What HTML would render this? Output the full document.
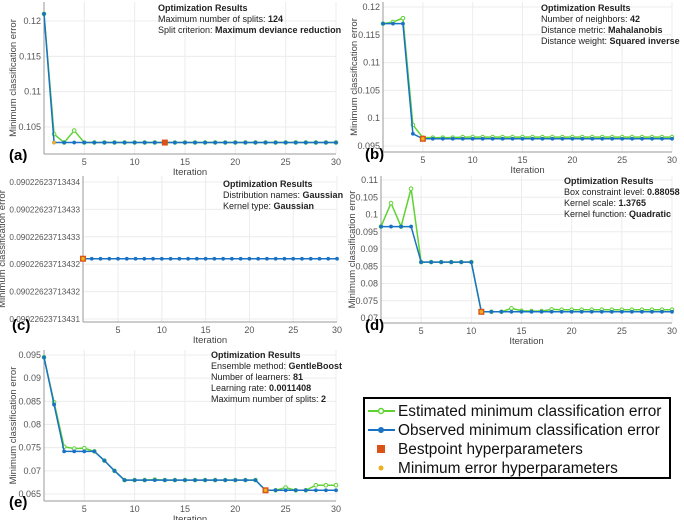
<!DOCTYPE html>
<html><head><meta charset="utf-8"><style>
body{margin:0;background:#fff;font-family:"Liberation Sans",sans-serif}
svg text{font-family:"Liberation Sans",sans-serif}
</style></head><body>
<svg id="s" width="684" height="520" xmlns="http://www.w3.org/2000/svg"></svg>
<script>
const iters=[1,2,3,4,5,6,7,8,9,10,11,12,13,14,15,16,17,18,19,20,21,22,23,24,25,26,27,28,29,30];
const xTicks=[5,10,15,20,25,30];
const aObs=[0.121,0.1028,0.1028,0.1028,0.1028,0.1028,0.1028,0.1028,0.1028,0.1028,0.1028,0.1028,0.1028,0.1028,0.1028,0.1028,0.1028,0.1028,0.1028,0.1028,0.1028,0.1028,0.1028,0.1028,0.1028,0.1028,0.1028,0.1028,0.1028,0.1028];
const aEst=[0.121,0.104,0.1028,0.1045,0.1028,0.1028,0.1028,0.1028,0.1028,0.1028,0.1028,0.1028,0.1028,0.1028,0.1028,0.1028,0.1028,0.1028,0.1028,0.1028,0.1028,0.1028,0.1028,0.1028,0.1028,0.1028,0.1028,0.1028,0.1028,0.1028];
const aTicks=[0.105,0.11,0.115,0.12];
const bObs=[0.117,0.117,0.117,0.0972,0.0963,0.0963,0.0963,0.0963,0.0963,0.0963,0.0963,0.0963,0.0963,0.0963,0.0963,0.0963,0.0963,0.0963,0.0963,0.0963,0.0963,0.0963,0.0963,0.0963,0.0963,0.0963,0.0963,0.0963,0.0963,0.0963];
const bEst=[0.117,0.1173,0.118,0.0988,0.0965,0.0965,0.0965,0.0965,0.0966,0.0966,0.0966,0.0966,0.0966,0.0966,0.0966,0.0966,0.0966,0.0966,0.0966,0.0966,0.0966,0.0966,0.0966,0.0966,0.0966,0.0966,0.0966,0.0966,0.0966,0.0966];
const bTicks=[0.095,0.1,0.105,0.11,0.115,0.12];
const cObs=[432.6,432.6,432.6,432.6,432.6,432.6,432.6,432.6,432.6,432.6,432.6,432.6,432.6,432.6,432.6,432.6,432.6,432.6,432.6,432.6,432.6,432.6,432.6,432.6,432.6,432.6,432.6,432.6,432.6,432.6];
const cTicks=[431.5,432,432.5,433,433.5,434];
const cTickLabels=["0.09022623713431","0.09022623713432","0.09022623713432","0.09022623713433","0.09022623713433","0.09022623713434"];
const dObs=[0.0965,0.0965,0.0965,0.0965,0.0862,0.0862,0.0862,0.0862,0.0862,0.0862,0.0718,0.0718,0.0718,0.0718,0.0718,0.0718,0.0718,0.0718,0.0718,0.0718,0.0718,0.0718,0.0718,0.0718,0.0718,0.0718,0.0718,0.0718,0.0718,0.0718];
const dEst=[0.0965,0.1033,0.0965,0.1075,0.0862,0.0862,0.0862,0.0862,0.0862,0.0862,0.0718,0.0718,0.0718,0.0728,0.0721,0.072,0.072,0.0725,0.0724,0.0724,0.0724,0.0724,0.0724,0.0724,0.0724,0.0724,0.0724,0.0724,0.0724,0.0724];
const dTicks=[0.07,0.075,0.08,0.085,0.09,0.095,0.1,0.105,0.11];
const eObs=[0.0945,0.0843,0.0742,0.0742,0.0742,0.0742,0.0722,0.07,0.068,0.068,0.068,0.068,0.068,0.068,0.068,0.068,0.068,0.068,0.068,0.068,0.068,0.068,0.0658,0.0658,0.0658,0.0658,0.0658,0.0658,0.0658,0.0658];
const eEst=[0.0945,0.0848,0.0752,0.0748,0.0749,0.0742,0.0722,0.07,0.068,0.068,0.068,0.0681,0.068,0.068,0.068,0.068,0.068,0.068,0.068,0.068,0.068,0.068,0.0658,0.0658,0.0664,0.0658,0.0658,0.0669,0.0669,0.0669];
const eTicks=[0.065,0.07,0.075,0.08,0.085,0.09,0.095];

const S=document.getElementById('s');
const NS='http://www.w3.org/2000/svg';
function mk(tag,at,parent,txt){const e=document.createElementNS(NS,tag);for(const k in at)e.setAttribute(k,at[k]);if(txt!==undefined)e.textContent=txt;(parent||S).appendChild(e);return e;}

function panel(p){
  const g=mk('g',{});
  
  
  const X=v=>p.x0+(v-1)/(29)*(p.x1-p.x0);
  const Y=v=>p.yA+(v-p.vA)/(p.vB-p.vA)*(p.yB-p.yA);
  xTicks.forEach(t=>{const l=mk('line',{x1:X(t),x2:X(t),y1:p.top,y2:p.bot,stroke:'#ececec','stroke-width':1},g);
    
    const tx=mk('text',{x:X(t),y:p.bot+11,'font-size':9,fill:'#555','text-anchor':'middle'},g,String(t));
    });
  p.ticks.forEach((t,i)=>{const y=Y(t);
    const l=mk('line',{x1:p.x0,x2:p.x1,y1:y,y2:y,stroke:'#ececec','stroke-width':1},g);
    
    const lab=p.labels?p.labels[i]:String(t);
    const tx=mk('text',{x:p.x0-3,y:y+3,'font-size':p.labels?8.2:9,fill:'#555','text-anchor':'end'},g,lab);
    });
  mk('line',{x1:p.x0,x2:p.x1,y1:p.bot,y2:p.bot,stroke:'#999'},g);
  mk('line',{x1:p.x0,x2:p.x0,y1:p.top,y2:p.bot,stroke:'#999'},g);
  const xl=mk('text',{x:(p.x0+p.x1)/2,y:p.bot+21,'font-size':9.5,fill:'#444','text-anchor':'middle'},g,'Iteration');
  
  const yl=mk('text',{x:0,y:0,'font-size':9.5,fill:'#444','text-anchor':'middle',transform:`translate(${p.ylx},${(p.top+p.bot)/2}) rotate(-90)`},g,'Minimum classification error');
  
  const series=[[p.est,'#5ed331','est'],[p.obs,'#1a72c4','obs']];
  series.forEach(([arr,col,nm])=>{if(!arr)return;
    const pl=mk('polyline',{points:arr.map((v,i)=>X(iters[i])+','+Y(v)).join(' '),fill:'none',stroke:col,'stroke-width':1.5},g);
    
    arr.forEach((v,i)=>{
      const c=nm==='est'?mk('circle',{cx:X(iters[i]),cy:Y(v),r:1.8,fill:'#fff',stroke:col,'stroke-width':1},g)
                        :mk('circle',{cx:X(iters[i]),cy:Y(v),r:1.9,fill:col},g);
      });
  });
  const bi=p.best-1, bx=X(iters[bi]), by=Y(p.obs[bi]);
  const br=mk('rect',{x:bx-3,y:by-3,width:6,height:6,fill:'#d95319'},g);
  
  const mi=p.minp-1;
  const mc=mk('circle',{cx:X(iters[mi]),cy:Y(p.obs[mi]),r:1.8,fill:'#edb120'},g);
  
  p.ann.forEach((ln,i)=>{const t=mk('text',{x:p.ax,y:p.ay+i*11,'font-size':9,fill:'#222'},g);
    
    if(i===0){mk('tspan',{'font-weight':'bold'},t,ln[0]);}
    else{mk('tspan',{},t,ln[0]+': ');mk('tspan',{'font-weight':'bold'},t,ln[1]);}});
  const lb=mk('text',{x:p.lx,y:p.ly,'font-size':15,'font-weight':'bold',fill:'#000'},g,'('+p.id+')');
  
}

panel({id:'a',x0:44,x1:336,top:2,bot:154,yA:21,vA:0.12,yB:127,vB:0.105,ticks:aTicks,obs:aObs,est:aEst,best:13,minp:2,ylx:16,
  ann:[['Optimization Results'],['Maximum number of splits','124'],['Split criterion','Maximum deviance reduction']],ax:158,ay:11,lx:9,ly:160});
panel({id:'b',x0:383,x1:672,top:2,bot:152,yA:7,vA:0.12,yB:146,vB:0.095,ticks:bTicks,obs:bObs,est:bEst,best:5,minp:5,ylx:357,
  ann:[['Optimization Results'],['Number of neighbors','42'],['Distance metric','Mahalanobis'],['Distance weight','Squared inverse']],ax:541,ay:11,lx:365,ly:159});
panel({id:'c',x0:83,x1:337,top:176,bot:322,yA:182,vA:434,yB:319,vB:431.5,ticks:cTicks,labels:cTickLabels,obs:cObs,est:null,best:1,minp:1,ylx:5,
  ann:[['Optimization Results'],['Distribution names','Gaussian'],['Kernel type','Gaussian']],ax:223,ay:187,lx:12,ly:330});
panel({id:'d',x0:381,x1:672,top:176,bot:323,yA:180,vA:0.11,yB:318,vB:0.07,ticks:dTicks,obs:dObs,est:dEst,best:11,minp:11,ylx:355,
  ann:[['Optimization Results'],['Box constraint level','0.88058'],['Kernel scale','1.3765'],['Kernel function','Quadratic']],ax:564,ay:184,lx:365,ly:330});
panel({id:'e',x0:44,x1:336,top:350,bot:501,yA:355,vA:0.095,yB:494,vB:0.065,ticks:eTicks,obs:eObs,est:eEst,best:23,minp:23,ylx:16,
  ann:[['Optimization Results'],['Ensemble method','GentleBoost'],['Number of learners','81'],['Learning rate','0.0011408'],['Maximum number of splits','2']],ax:211,ay:358,lx:9,ly:507});

const lg=mk('g',{});


mk('rect',{x:364,y:398,width:306,height:80,fill:'#fff',stroke:'#000','stroke-width':2},lg);
const items=[['Estimated minimum classification error','est'],['Observed minimum classification error','obs'],['Bestpoint hyperparameters','best'],['Minimum error hyperparameters','min']];
items.forEach(([txt,k],i)=>{const y=411+i*19;
  const e=mk('g',{},lg);
  
  
  if(k==='est'){mk('line',{x1:368,x2:395,y1:y,y2:y,stroke:'#5ed331','stroke-width':2},e);mk('circle',{cx:381,cy:y,r:2.5,fill:'#fff',stroke:'#5ed331','stroke-width':1.5},e);}
  if(k==='obs'){mk('line',{x1:368,x2:395,y1:y,y2:y,stroke:'#1a72c4','stroke-width':2},e);mk('circle',{cx:381,cy:y,r:3,fill:'#1a72c4'},e);}
  if(k==='best')mk('rect',{x:377,y:y-4,width:8,height:8,fill:'#d95319'},e);
  if(k==='min')mk('circle',{cx:381,cy:y,r:2.5,fill:'#edb120'},e);
  mk('text',{x:398,y:y+5,'font-size':15.4,fill:'#111'},e,txt);
});
</script>
</body></html>
